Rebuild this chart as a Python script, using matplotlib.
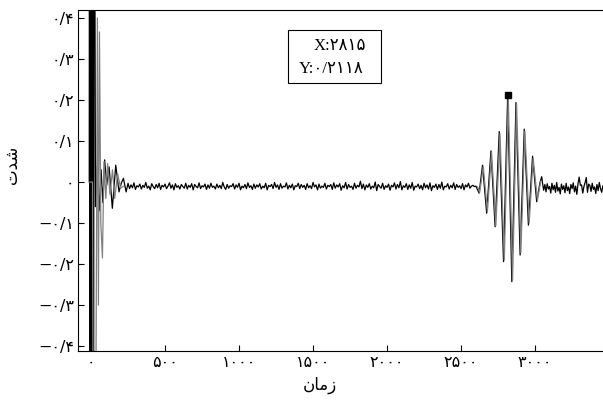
import matplotlib
matplotlib.use("Agg")
import numpy as np
import matplotlib.pyplot as plt
from matplotlib.patches import Rectangle

# ---------------- data ----------------
# start of the record: clipped spikes then a damped ringing (black trace)
start_x = [-12, -10, -7, -4, -1, 2, 5, 8, 11, 14, 17, 20, 30, 42, 55, 68, 80,
           92, 106, 122, 144, 167, 189, 205, 219, 237]
start_y = [0.0, 1.5, -1.5, 1.5, -1.5, 1.5, -1.5, 1.5, -1.5, 1.5, -1.5, 1.5,
           -0.06, 0.04, -0.07, 0.03, -0.05, 0.054, -0.007, 0.037, -0.064,
           0.041, -0.024, -0.002, 0.009, -0.024]

# baseline noise, one value every 10 samples from 250 (in 1/1000)
noise_x0 = 250
noise_step = 10
noise_mid = [-3, -16, -7, -14, -2, -18, -9, -12, -5, -17, -8, -13, -1, -15, -10, -19, -4, -11, -16, -6,
             -14, -3, -18, -8, -12, -5, -16, -10, -2, -15, -7, -19, -4, -13, -9, -17, -6, -11, -15, -3,
             -17, -8, -13, -4, -19, -6, -11, -14, -2, -16, -9, -12, -5, -18, -7, -15, -3, -13, -10, -17,
             -5, -14, -8, -16, -1, -12, -18, -6, -15, -9, -11, -4, -17, -7, -13, -3, -19, -10, -14, -6,
             -16, -2, -13, -9, -18, -5, -15, -7, -12, -4, -17, -10, -14, -3, -19, -8, -11, -6, -16, -1,
             -13, -7, -18, -4, -15, -10, -12, -2, -17, -8, -14, -5, -19, -9, -11, -3, -16, -6, -13, -8,
             -18, -4, -14, -9, -16, -1, -12, -7, -19, -5, -15, -10, -13, -3, -17, -8, -11, -6, -18, -2,
             -15, -7, -12, -4, -20, -9, -14, -1, -17, -6, -13, -10, -18, -3, -15, -8, -12, 2, -16, -5,
             -19, -7, -13, -4, -17, -10, -14, 0, -21, -6, -11, -15, -3, -18, -9, -13, -5, -20, -8, -12,
             -2, -17, -6, -14, 1, -19, -9, -13, -4, -18, -7, -15, -1, -20, -10, -12, -5, -16, -8, -19,
             -3, -14, -7, -17, -2, -21, -9, -13, -5, -18, -6, -15, 0, -19, -10, -12, -4, -17, -8, -14,
             -2, -18, -6, -13, -9, -16, -4, -19, -7, -12, -3, -15, -10, -8, -11]

# wave packet (peaks / troughs)
packet_x = [2600, 2622, 2645, 2673, 2702, 2730, 2758, 2787, 2815, 2843, 2871,
            2899, 2927, 2955, 2983, 3011, 3034, 3045]
packet_y = [-0.010, -0.027, 0.041, -0.076, 0.076, -0.109, 0.123, -0.194, 0.2118,
            -0.243, 0.194, -0.178, 0.129, -0.105, 0.063, -0.048, 0.0, 0.013]

# noisy tail, one value every 8 samples from 3050 (in 1/1000)
tail_x0 = 3050
tail_step = 8
tail = [-2, -20, -6, -24, -4, -17, -11, -27, -3, -19, -8, -25, -1, -22, -13, -29, -5, -18, -9, -26,
        -3, -21, -12, -28, -6, -16, -2, -24, -10, -30, -4, 12, -8, -7, -27, -11, -1, 11, -25, -5,
        -8, -23, -3, -18, -12, -28, -6, -21, -1, -16, -25, -9, -20, -4, -26, -13, -7]

# grey trace: start spike and packet
grey_start_x = [-8, 10, 20, 32, 43, 50, 57, 66, 77, 88, 100, 112, 128, 145,
                160, 180, 200, 220]
grey_start_y = [0.0, 0.0, -1.5, -0.6, 0.40, -0.3, 0.366, -0.1, -0.185, 0.05,
                -0.04, 0.045, -0.03, 0.03, -0.04, 0.02, -0.015, -0.01]
grey_packet_x = [2612, 2626, 2650, 2678, 2706, 2735, 2763, 2792, 2819, 2848,
                 2875, 2904, 2931, 2960, 2987, 3016, 3038]
grey_packet_y = [-0.012, -0.025, 0.038, -0.072, 0.072, -0.106, 0.118, -0.19,
                 0.205, -0.238, 0.19, -0.172, 0.124, -0.1, 0.058, -0.044, 0.002]

marker_x, marker_y = 2815, 0.2118

x_ticks = [0, 500, 1000, 1500, 2000, 2500, 3000]
x_labels = ["۰", "۵۰۰", "۱۰۰۰", "۱۵۰۰", "۲۰۰۰", "۲۵۰۰", "۳۰۰۰"]
y_ticks = [-0.4, -0.3, -0.2, -0.1, 0, 0.1, 0.2, 0.3, 0.4]
y_labels = ["−۰/۴", "−۰/۳", "−۰/۲", "−۰/۱", "۰", "۰/۱", "۰/۲", "۰/۳", "۰/۴"]

# presentation forms, already in visual order
x_title = "\uFEE5\uFE8E\uFEE3\uFEAF"   # zaman
y_title = "\uFE95\uFEAA\uFEB7"         # shedat

# ---------------- build traces ----------------
noise_x = [noise_x0 + noise_step * i for i in range(len(noise_mid))]
tail_x = [tail_x0 + tail_step * i for i in range(len(tail))]
black_x = start_x + noise_x + packet_x + tail_x
black_y = start_y + [v / 1000 for v in noise_mid] + packet_y + [v / 1000 for v in tail]

# ---------------- graph ----------------
fig = plt.figure(figsize=(6.03, 4.03), dpi=100)
ax = fig.add_axes([78 / 603, 52 / 403, 0.88, 341 / 403])

ax.plot(black_x, black_y, color="black", lw=0.9)
ax.plot(grey_start_x, grey_start_y, color="#808080", lw=0.9)
ax.plot(grey_packet_x, grey_packet_y, color="#808080", lw=0.9)
ax.plot([marker_x], [marker_y], "s", color="black", ms=4)

ax.set_xlim(-88, 3497)
ax.set_ylim(-0.412, 0.4195)
ax.set_xticks(x_ticks)
ax.set_xticklabels(x_labels, family=["DejaVu Sans"], fontsize=11.5)
ax.set_yticks(y_ticks)
ax.set_yticklabels(y_labels, family=["DejaVu Sans"], fontsize=11.5)
ax.tick_params(direction="in", length=4, width=0.8)
ax.tick_params(axis="y", pad=3)
ax.tick_params(axis="x", pad=3)
for s in ax.spines.values():
    s.set_linewidth(0.8)

fig.text(320 / 603, 1 - 385 / 403, x_title, ha="center", va="center",
         fontsize=12, family=["DejaVu Sans"])
fig.text(12 / 603, 1 - 165 / 403, y_title, ha="center", va="center",
         rotation=90, fontsize=12, family=["DejaVu Sans"])

# data tip box
fig.patches.append(Rectangle((288 / 603, 1 - 83 / 403), 93 / 603, 53 / 403,
                             transform=fig.transFigure, fill=True,
                             facecolor="white", edgecolor="black", lw=0.8))
fig.text(340 / 603, 1 - 46 / 403, "X:۲۸۱۵", ha="center", va="center",
         fontsize=12, family=["Liberation Serif", "DejaVu Sans"])
fig.text(331 / 603, 1 - 69 / 403, "Y:۰/۲۱۱۸", ha="center", va="center",
         fontsize=12, family=["Liberation Serif", "DejaVu Sans"])

fig.savefig("out.png", dpi=100)
